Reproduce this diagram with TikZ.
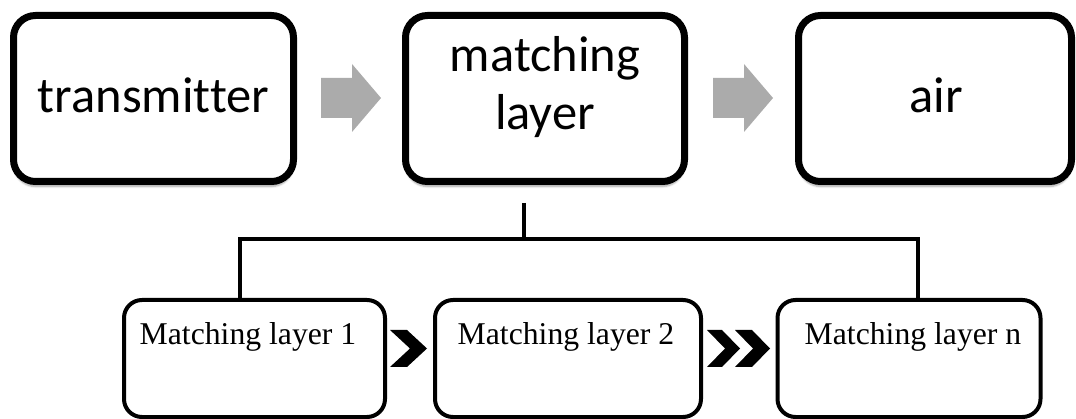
\documentclass[tikz,border=0pt]{standalone}
\usepackage{fontspec}
\setmainfont{Liberation Serif}
\newfontfamily\calib[Ligatures=NoCommon]{Carlito}
\usetikzlibrary{shadows.blur}
\tikzset{
  bigbox/.style={draw=black, line width=7pt, rounded corners=22pt, fill=white,
    blur shadow={shadow xshift=0pt, shadow yshift=-5pt, shadow blur steps=6, shadow opacity=35},
    minimum height=166pt, inner sep=0pt},
  bigtext/.style={font=\calib\fontsize{50.5}{58}\selectfont, align=center, inner sep=0pt, anchor=base},
  smallbox/.style={draw=black, line width=4pt, rounded corners=18pt, fill=white,
    minimum height=117pt, inner sep=0pt},
  smalltext/.style={font=\fontsize{31.7}{34}\selectfont, inner sep=0pt, anchor=base},
  grayarrow/.style={fill=black!33, draw=none},
  chev/.style={fill=black, draw=none},
  link/.style={draw=black, line width=4.5pt}
}
\begin{document}
\begin{tikzpicture}[x=1pt, y=-1pt]
\useasboundingbox (0,0) rectangle (1076,419);

% upper row
\node[bigbox, minimum width=280pt] (tx) at (153.5,98.5) {};
\node[bigbox, minimum width=279pt] (ml) at (545,98.5) {};
\node[bigbox, minimum width=273pt] (air) at (935,98.5) {};
\node[bigtext] (txt) at (153.5,113) {transmitter};
\node[bigtext] (mlt1) at (545,72) {matching};
\node[bigtext] (mlt2) at (545,130) {layer};
\node[bigtext] (airt) at (936,113) {air};

% gray block arrows between the upper boxes
\fill[grayarrow] (321,78) -- (352,78) -- (352,64) -- (381,98) -- (352,132) -- (352,118) -- (321,118) -- cycle;
\fill[grayarrow] (713,78) -- (744,78) -- (744,64) -- (773,98) -- (744,132) -- (744,118) -- (713,118) -- cycle;

% lower row
\node[smallbox, minimum width=261pt] (m1) at (254.5,358.5) {};
\node[smallbox, minimum width=266pt] (m2) at (568,358.5) {};
\node[smallbox, minimum width=263pt] (mn) at (909,358.5) {};
\node[smalltext] (t1) at (248,345) {Matching layer 1};
\node[smalltext] (t2) at (566,345) {Matching layer 2};
\node[smalltext] (tn) at (913,345) {Matching layer n};

% black chevrons between the lower boxes
\fill[chev] (390,330) -- (407,330) -- (427,348.5) -- (407,367) -- (390,367) -- (410,348.5) -- cycle;
\fill[chev] (707,330) -- (722,330) -- (740,348.5) -- (722,367) -- (707,367) -- (725,348.5) -- cycle;
\fill[chev] (735,330) -- (752,330) -- (770,348.5) -- (752,367) -- (735,367) -- (753,348.5) -- cycle;

% branching connector from the matching layer to its sub-layers
\coordinate (top) at (524,203);
\coordinate (jl) at (240,239);
\coordinate (jr) at (918,239);
\draw[link] (top) -- (524,239);
\draw[link] (240,300) -- (jl) -- (jr) -- (918,300);
\end{tikzpicture}
\end{document}
